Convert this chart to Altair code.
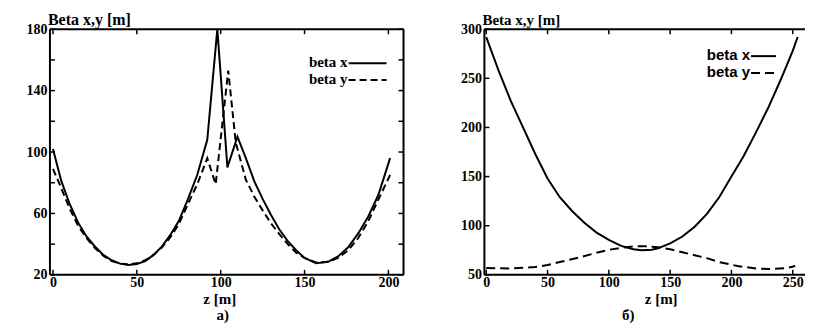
import altair as alt
import pandas as pd

# ---------------- data ----------------
# panel a)
a_z_x = [0, 5, 10, 15, 20, 25, 30, 35, 40, 45, 50, 55, 60, 65, 70, 75, 80, 86, 92, 98,
         104, 110, 115, 120, 125, 130, 135, 140, 145, 150, 157, 164, 170, 176, 182, 188, 194, 201]
a_beta_x = [102, 81, 66, 54, 45, 38.5, 33, 29.5, 27.3, 26.5, 27, 29, 33, 38.5, 46, 55, 68, 85, 108, 180,
            90, 110, 96, 81, 69.5, 59, 49.5, 42, 36, 31, 27.5, 28.5, 32, 38, 47, 58, 72, 96]
a_z_y = [0, 4, 10, 15, 20, 25, 30, 35, 40, 45, 50, 55, 60, 65, 70, 75, 80, 86, 92, 97,
         104.5, 109, 115, 120, 125, 130, 135, 140, 145, 150, 157, 164, 170, 176, 182, 188, 194, 201]
a_beta_y = [89, 79, 63, 52, 44, 37.5, 32.5, 29, 27.3, 26.8, 27.5, 29.5, 33, 38, 44.5, 53, 65, 79, 96, 79,
            153, 106, 82, 71, 62, 53.5, 46.5, 40, 34.5, 31, 28, 28.5, 31, 36, 44, 55, 69, 85]

# panel б)
b_z_x = [0, 10, 20, 30, 40, 50, 60, 70, 80, 90, 100, 110, 120, 127, 135, 140, 150, 160, 170, 180,
         190, 200, 210, 220, 230, 240, 250, 254]
b_beta_x = [292, 258, 227, 200, 173, 148, 129, 115, 103, 93, 85.5, 79.5, 76, 75, 75.5, 77, 82, 89, 99, 112,
            129, 150, 171, 195, 220, 248, 278, 292]
b_z_y = [0, 20, 40, 50, 60, 75, 90, 100, 110, 120, 130, 140, 150, 160, 170, 180, 190, 205, 220, 232, 245, 252]
b_beta_y = [57, 56.5, 58, 60, 63, 67.5, 72.5, 75.5, 77.5, 79, 79, 78, 76, 73, 70, 67, 63, 59, 56.5, 56, 57, 59]

a_x_labels = [0, 50, 100, 150, 200]
a_y_labels = [20, 60, 100, 140, 180]
a_y_ticks = [20, 40, 60, 80, 100, 120, 140, 160, 180]
b_x_labels = [0, 50, 100, 150, 200, 250]
b_y_labels = [50, 100, 150, 200, 250, 300]

legend_names = ["beta x", "beta y"]
y_title = "Beta x,y [m]"
x_title = "z [m]"
sub_a = "а)"
sub_b = "б)"

SERIF = "Liberation Serif"
SANS = "Liberation Sans"
H = 246


def text_layer(txt, x, y, size, align, font=SERIF):
    d = pd.DataFrame({"t": [txt]})
    return alt.Chart(d).mark_text(
        align=align, baseline="alphabetic", font=font, fontWeight="bold",
        fontSize=size, color="black").encode(text="t:N", x=alt.value(x), y=alt.value(y))


def panel(zx, bx, zy, by, xdom, ydom, xlab, ylab, yticks, w, dash,
          legend_font, legend_size, leg_x, leg_y0, leg_dy, leg_len,
          title_size, title_dx, xt_x, sub_txt, sub_x, right_frame):
    xs = alt.Scale(domain=xdom, nice=False, zero=False)
    ys = alt.Scale(domain=ydom, nice=False, zero=False)
    ax_common = dict(ticks=False, tickSize=0, domain=False, grid=False, labelFont=SERIF,
                     labelFontWeight="bold", labelFontSize=14, labelColor="black",
                     labelFlush=False, labelOverlap=False, title=None)
    xaxis = alt.Axis(values=xlab, labelPadding=1, **ax_common)
    yaxis = alt.Axis(values=ylab, labelPadding=3, **ax_common)

    def X(f):
        return alt.X(f, scale=xs, axis=xaxis)

    def Y(f):
        return alt.Y(f, scale=ys, axis=yaxis)

    dfx = pd.DataFrame({"z": zx, "b": bx})
    dfy = pd.DataFrame({"z": zy, "b": by})
    one = pd.DataFrame({"k": [0]})

    line_x = alt.Chart(dfx).mark_line(color="black", strokeWidth=2, clip=True).encode(
        x=X("z:Q"), y=Y("b:Q"))
    line_y = alt.Chart(dfy).mark_line(color="black", strokeWidth=2, strokeDash=dash, clip=True).encode(
        x=X("z:Q"), y=Y("b:Q"))

    xt = pd.DataFrame({"z": xlab})
    yt = pd.DataFrame({"b": yticks})
    tk = dict(color="black", strokeWidth=1.5)
    t_bottom = alt.Chart(xt).mark_rule(**tk).encode(x=X("z:Q"), y=alt.value(H), y2=alt.value(H - 5))
    t_top = alt.Chart(xt).mark_rule(**tk).encode(x=X("z:Q"), y=alt.value(0), y2=alt.value(5))
    t_left = alt.Chart(yt).mark_rule(**tk).encode(y=Y("b:Q"), x=alt.value(0), x2=alt.value(5))
    layers = [line_x, line_y, t_bottom, t_top, t_left]
    if right_frame:
        layers.append(alt.Chart(yt).mark_rule(**tk).encode(
            y=Y("b:Q"), x=alt.value(w), x2=alt.value(w - 5)))

    fr = dict(color="black", strokeWidth=2)
    layers.append(alt.Chart(one).mark_rule(**fr).encode(x=alt.value(0), y=alt.value(0), y2=alt.value(H)))
    layers.append(alt.Chart(one).mark_rule(**fr).encode(x=alt.value(0), x2=alt.value(w), y=alt.value(0)))
    layers.append(alt.Chart(one).mark_rule(**fr).encode(x=alt.value(0), x2=alt.value(w), y=alt.value(H)))
    if right_frame:
        layers.append(alt.Chart(one).mark_rule(**fr).encode(x=alt.value(w), y=alt.value(0), y2=alt.value(H)))

    # legend
    for i, name in enumerate(legend_names):
        yb = leg_y0 + i * leg_dy
        layers.append(text_layer(name, leg_x, yb, legend_size, "right", legend_font))
        rk = dict(color="black", strokeWidth=2)
        if i == 1:
            rk["strokeDash"] = dash
        layers.append(alt.Chart(one).mark_rule(**rk).encode(
            x=alt.value(leg_x + 1), x2=alt.value(leg_x + 1 + leg_len), y=alt.value(yb - 4)))

    # titles
    layers.append(text_layer(y_title, title_dx, -4, title_size, "left"))
    layers.append(text_layer(x_title, xt_x, H + 29, 15, "center"))
    layers.append(text_layer(sub_txt, sub_x, H + 45, 15, "center"))
    return layers


WA = 354
WB = 321
la = panel(a_z_x, a_beta_x, a_z_y, a_beta_y, [-1.8, 209], [20, 180], a_x_labels, a_y_labels,
           a_y_ticks, WA, [7, 4], SERIF, 15, 298, 38, 17, 38, 16, -2, 170, sub_a, 173, True)
lb = panel(b_z_x, b_beta_x, b_z_y, b_beta_y, [-1.5, 260], [50, 300], b_x_labels, b_y_labels,
           b_y_labels, WB, [9, 5], SANS, 15, 266, 31, 17, 25, 15, -2, 177, sub_b, 144, False)

ca = alt.layer(*la).properties(width=WA, height=H)
cb = alt.layer(*lb).properties(width=WB, height=H)

chart = alt.hconcat(ca, cb, spacing=81, bounds="flush").properties(
    padding={"left": 17, "top": 3, "right": 0, "bottom": 0},
    background="white",
).configure_view(stroke="transparent")

chart.save("out.html", embed_options={"renderer": "svg", "actions": False})
